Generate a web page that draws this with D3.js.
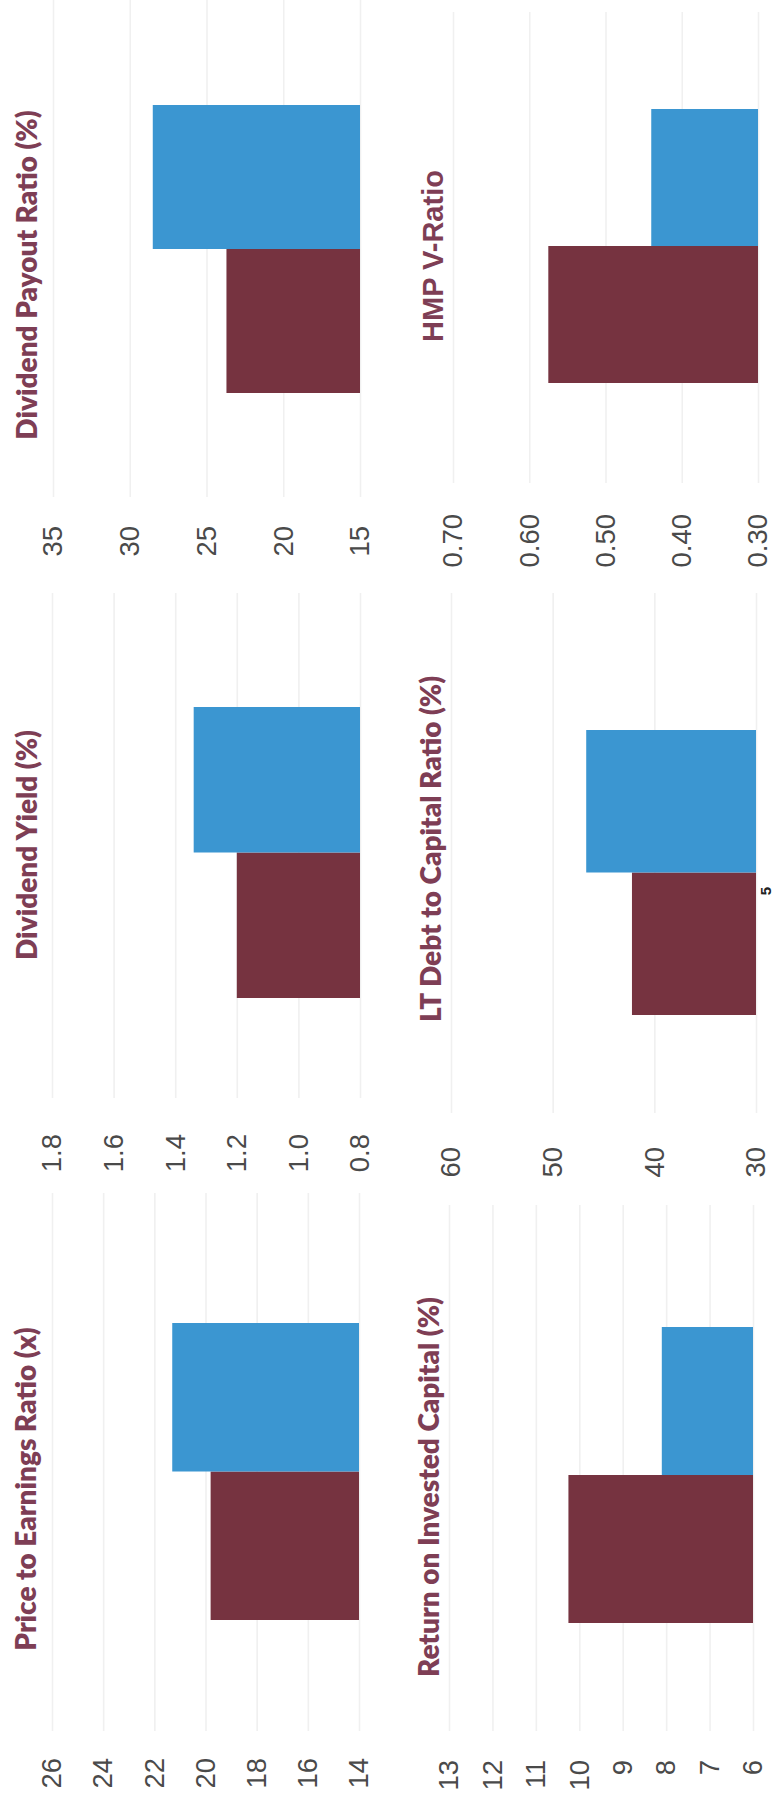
<!DOCTYPE html>
<html>
<head>
<meta charset="utf-8">
<script src="https://cdn.jsdelivr.net/npm/d3@7"></script>
<style>
  html, body { margin: 0; padding: 0; background: #fff; }
  svg { display: block; }
</style>
</head>
<body>
<svg id="page" width="776" height="1805"></svg>
<script>
// The scanned page is landscape and was turned a quarter turn, so the charts
// are laid out on a 1805 x 776 sheet and that sheet is rotated into the window.

const titles = [
  "Price to Earnings Ratio (x)",
  "Dividend Yield (%)",
  "Dividend Payout Ratio (%)",
  "Return on Invested Capital (%)",
  "LT Debt to Capital Ratio (%)",
  "HMP V-Ratio"
];
const series = ["Company", "Peers"];
const companyValues = [19.8, 1.20, 23.7, 10.25, 42.2, 0.575];
const peerValues = [21.3, 1.34, 28.5, 8.1, 46.7, 0.44];
const ticks = [
  [14, 16, 18, 20, 22, 24, 26],
  [0.8, 1.0, 1.2, 1.4, 1.6, 1.8],
  [15, 20, 25, 30, 35],
  [6, 7, 8, 9, 10, 11, 12, 13],
  [30, 40, 50, 60],
  [0.30, 0.40, 0.50, 0.60, 0.70]
];
const tickDecimals = [0, 1, 0, 0, 0, 2];
const pageNumber = "5";

const colors = ["#763340", "#3b96d1"];

// where each chart sits on the landscape sheet (u runs across, v runs down)
const layout = [
  {plot: [74, 612],   bars: [185, 482],   v: [359, 52],  labelEnd: 47,   title: [316, 36]},
  {plot: [707, 1212], bars: [807, 1098],  v: [360, 52],  labelEnd: 671,  title: [960, 37]},
  {plot: [1308, 1805], bars: [1412, 1700], v: [360, 53], labelEnd: 1279, title: [1530, 37]},
  {plot: [74, 600],   bars: [182, 478],   v: [753, 449], labelEnd: 45,   title: [318, 439]},
  {plot: [692, 1212], bars: [790, 1075],  v: [756, 451], labelEnd: 658,  title: [956, 441]},
  {plot: [1322, 1793], bars: [1422, 1696], v: [758, 453], labelEnd: 1291, title: [1549, 443], arial: true}
];

const svg = d3.select("#page");

const sheet = svg.append("g")
    .attr("transform", "translate(0,1805) rotate(-90)");

titles.forEach((title, i) => {
  const L = layout[i],
      t = ticks[i],
      values = [companyValues[i], peerValues[i]];

  const y = d3.scaleLinear()
      .domain([t[0], t[t.length - 1]])
      .range(L.v);

  const x = d3.scaleBand()
      .domain(series)
      .range(L.bars);

  const g = sheet.append("g").attr("class", "chart");

  // gridlines
  g.append("g")
      .attr("transform", `translate(${L.plot[0]},0)`)
      .call(d3.axisLeft(y).tickValues(t).tickSize(-(L.plot[1] - L.plot[0])).tickFormat(""))
      .call(a => a.select(".domain").remove())
      .selectAll("line")
        .attr("stroke", "#f0f0f0")
        .attr("stroke-width", 1.6);

  // value labels
  g.append("g")
      .attr("transform", `translate(${L.labelEnd},0)`)
      .call(d3.axisLeft(y).tickValues(t).tickSize(0).tickPadding(0)
          .tickFormat(d3.format("." + tickDecimals[i] + "f")))
      .call(a => a.select(".domain").remove())
      .selectAll("text")
        .attr("font-family", "'Liberation Sans', Arial, sans-serif")
        .attr("font-size", 27.5)
        .attr("fill", "#4a4a4a");

  g.selectAll("rect.bar")
    .data(values)
    .join("rect")
      .attr("class", "bar")
      .attr("x", (d, j) => x(series[j]))
      .attr("y", d => y(d))
      .attr("width", x.bandwidth())
      .attr("height", d => y(t[0]) - y(d))
      .attr("fill", (d, j) => colors[j]);

  g.append("text")
      .attr("x", L.title[0])
      .attr("y", L.title[1])
      .attr("text-anchor", "middle")
      .attr("font-family", L.arial ? "'Liberation Sans', Arial, sans-serif" : "Lato, 'Open Sans', sans-serif")
      .attr("font-weight", L.arial ? 700 : 800)
      .attr("font-size", L.arial ? 29 : 28)
      .attr("fill", "#7e3e55")
      .text(title);
});

sheet.append("text")
    .attr("x", 914)
    .attr("y", 771)
    .attr("text-anchor", "middle")
    .attr("font-family", "'Liberation Sans', Arial, sans-serif")
    .attr("font-weight", 700)
    .attr("font-size", 15)
    .attr("fill", "#222")
    .text(pageNumber);
</script>
</body>
</html>
